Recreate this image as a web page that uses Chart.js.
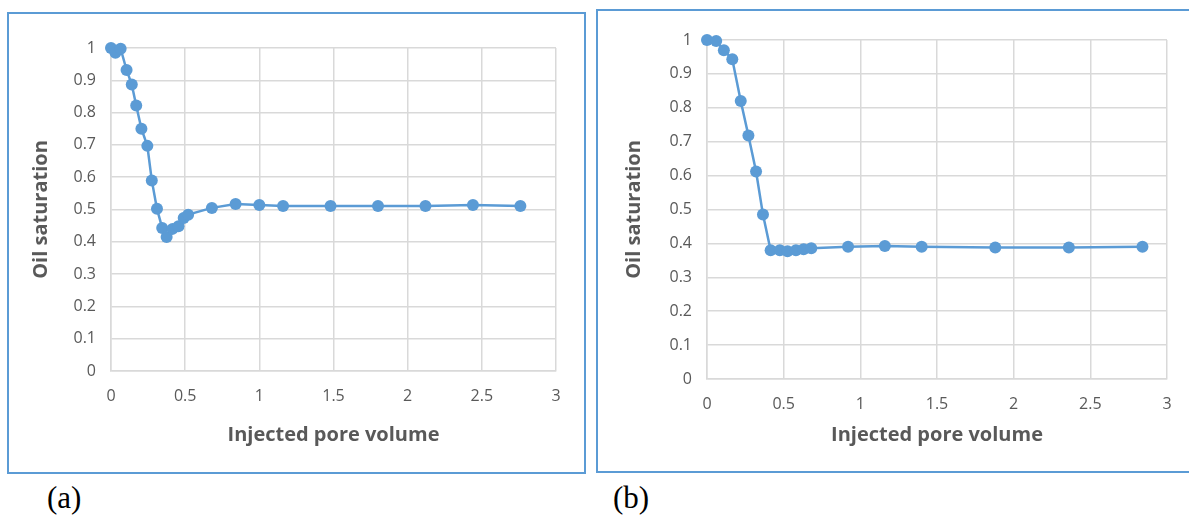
<!DOCTYPE html>
<html lang="en">
<head>
  <meta charset="UTF-8">
  <title>Oil saturation vs injected pore volume</title>
  <script src="https://cdn.jsdelivr.net/npm/chart.js"></script>
  <style>
    body { margin: 0; background: #fff; width: 1189px; height: 516px; overflow: hidden; position: relative; }
    .box { position: absolute; border: 2px solid #5b9bd5; box-sizing: border-box; background: #fff; }
    .box canvas { position: absolute; left: 0; top: 0; }
    .tag { position: absolute; font-family: "Liberation Serif", serif; font-size: 31px; color: #000; line-height: 1; }
  </style>
</head>
<body>
  <div class="box" id="boxA" style="left:7px; top:12px; width:579px; height:462px;">
    <canvas id="chartA" width="575" height="458"></canvas>
  </div>
  <div class="box" id="boxB" style="left:596px; top:9px; width:600px; height:464px;">
    <canvas id="chartB" width="593" height="460"></canvas>
  </div>
  <div class="tag" style="left:47px; top:482px;">(a)</div>
  <div class="tag" style="left:613px; top:482px;">(b)</div>

  <script>
    // (a) injected pore volume / oil saturation
    const poreA = [0, 0.03, 0.065, 0.105, 0.14, 0.17, 0.205, 0.245, 0.275, 0.31, 0.345, 0.375,
                   0.415, 0.455, 0.49, 0.52, 0.68, 0.84, 1.0, 1.16, 1.48, 1.8, 2.12, 2.44, 2.76];
    const satA = [1.0, 0.985, 0.998, 0.932, 0.887, 0.822, 0.75, 0.697, 0.59, 0.502, 0.443, 0.415,
                  0.44, 0.448, 0.474, 0.484, 0.505, 0.517, 0.514, 0.511, 0.511, 0.511, 0.511, 0.514, 0.511];

    // (b)
    const poreB = [0, 0.06, 0.11, 0.165, 0.22, 0.27, 0.32, 0.365, 0.415, 0.475, 0.525, 0.58, 0.63, 0.68,
                   0.92, 1.16, 1.40, 1.88, 2.36, 2.84];
    const satB = [1.0, 0.997, 0.97, 0.943, 0.82, 0.718, 0.612, 0.485, 0.38, 0.38, 0.377, 0.38, 0.383, 0.386,
                  0.39, 0.392, 0.39, 0.388, 0.388, 0.39];

    const xTicks = [0, 0.5, 1, 1.5, 2, 2.5, 3];
    const yTicks = [0, 0.1, 0.2, 0.3, 0.4, 0.5, 0.6, 0.7, 0.8, 0.9, 1];

    const blue = '#5b9bd5';
    const gridGrey = '#d9d9d9';
    const textGrey = '#595959';

    function createChart(id, xs, ys, lay) {
      const ctx = document.getElementById(id).getContext('2d');
      return new Chart(ctx, {
        type: 'scatter',
        data: {
          datasets: [{
            data: xs.map((x, i) => ({ x: x, y: ys[i] })),
            showLine: true,
            clip: false,
            borderColor: blue,
            backgroundColor: blue,
            borderWidth: 2.5,
            pointRadius: 6,
            pointBorderWidth: 0,
            pointHoverRadius: 6
          }]
        },
        options: {
          responsive: false,
          animation: false,
          layout: { padding: { top: lay.top, right: lay.right, left: 0, bottom: 0 } },
          plugins: { legend: { display: false }, tooltip: { enabled: false } },
          scales: {
            x: {
              type: 'linear',
              min: 0, max: 3,
              afterBuildTicks: s => { s.ticks = xTicks.map(v => ({ value: v })); },
              afterFit: s => { s.height = lay.xh; },
              grid: { color: gridGrey, lineWidth: 1.5, drawTicks: false },
              border: { color: gridGrey, width: 1.5 },
              ticks: { color: textGrey, font: { family: 'Open Sans', size: 16 }, padding: lay.xpad,
                       callback: v => String(v) },
              title: {
                display: true, text: 'Injected pore volume', color: textGrey,
                font: { family: 'Open Sans', size: 20, weight: 'bold' },
                padding: { top: 0, bottom: lay.xtb }
              }
            },
            y: {
              min: 0, max: 1,
              afterBuildTicks: s => { s.ticks = yTicks.map(v => ({ value: v })); },
              afterFit: s => { s.width = lay.yw; },
              grid: { color: gridGrey, lineWidth: 1.5, drawTicks: false },
              border: { color: gridGrey, width: 1.5 },
              ticks: { color: textGrey, font: { family: 'Open Sans', size: 16 }, padding: lay.ypad,
                       callback: v => String(v) },
              title: {
                display: true, text: 'Oil saturation', color: textGrey,
                font: { family: 'Open Sans', size: 20, weight: 'bold' },
                padding: { top: lay.ytt, bottom: 0 }
              }
            }
          }
        }
      });
    }

    // canvas A sits at page (9,14); canvas B at page (598,11)
    createChart('chartA', poreA, satA, { top: 34, right: 28, xh: 101, yw: 102, xpad: 16, ypad: 15, xtb: 25, ytt: 20 });
    createChart('chartB', poreB, satB, { top: 29, right: 24, xh: 92, yw: 109, xpad: 16, ypad: 15, xtb: 24, ytt: 24 });
  </script>
</body>
</html>
